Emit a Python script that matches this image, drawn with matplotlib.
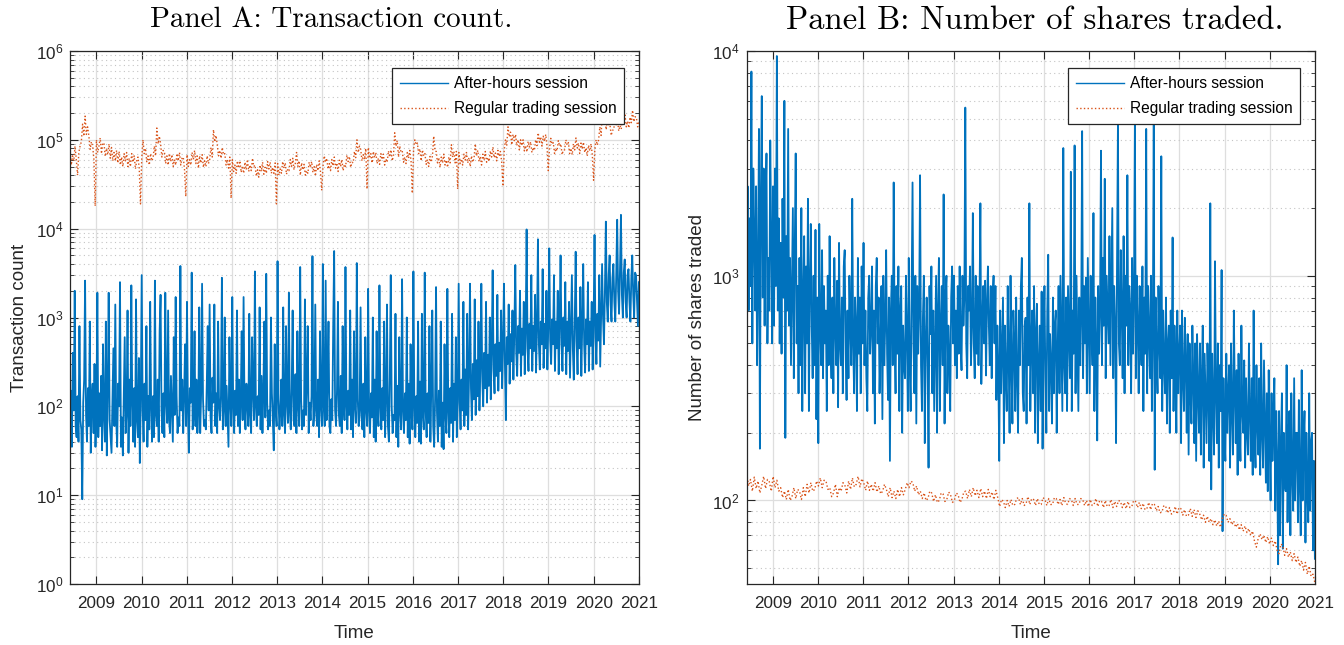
import matplotlib
matplotlib.use('Agg')
import matplotlib.pyplot as plt
import matplotlib.dates as mdates
from matplotlib.ticker import NullFormatter, NullLocator
import pandas as pd

plt.rcParams['font.family'] = ['Liberation Sans', 'DejaVu Sans']
plt.rcParams['mathtext.fontset'] = 'custom'
plt.rcParams['mathtext.rm'] = 'Liberation Sans'
plt.rcParams['mathtext.it'] = 'Liberation Sans'
plt.rcParams['mathtext.bf'] = 'Liberation Sans:bold'

# After-hours transaction count, four readings per month (Jun 2008 - Dec 2020)
after_hours_count = [
    70, 150, 35, 400, 90, 2000, 60, 45, 130, 40, 800, 70, 55, 9, 110, 200, 2600, 80, 40, 160, 60, 900, 30, 120, 180, 50, 300, 35,
    90, 1900, 45, 140, 60, 220, 32, 500, 80, 40, 900, 28, 150, 1900, 70, 45, 30, 110, 450, 60, 1400, 70, 35, 180,
    100, 2500, 35, 75, 28, 130, 600, 50, 85, 1200, 30, 200, 60, 2300, 110, 40, 160, 35, 1600, 70, 45, 350, 23, 120,
    3000, 90, 40, 180, 70, 800, 35, 130, 55, 1500, 100, 40, 130, 45, 2600, 80, 60, 200, 40, 700, 1800, 90, 50, 140,
    45, 1900, 110, 65, 1200, 70, 50, 220, 95, 40, 600, 80, 1700, 130, 50, 75, 60, 3800, 90, 200, 50, 140, 500, 60,
    1500, 90, 30, 160, 110, 3200, 55, 80, 700, 60, 200, 50, 90, 1300, 50, 140, 2400, 120, 60, 70, 55, 180, 800, 90,
    1400, 75, 50, 210, 110, 1400, 60, 140, 50, 900, 100, 70, 130, 2800, 55, 90, 1000, 60, 170, 80, 35, 600, 110, 60,
    1700, 100, 50, 150, 80, 1200, 60, 200, 50, 120, 700, 70, 1700, 90, 55, 180, 110, 60, 1100, 80, 50, 600, 150, 70,
    3300, 100, 60, 130, 80, 1300, 55, 220, 50, 160, 900, 75, 3100, 110, 55, 90, 60, 1000, 140, 70, 32, 500, 100, 60,
    4300, 120, 55, 90, 200, 60, 1300, 80, 50, 800, 110, 65, 1900, 90, 55, 160, 1200, 70, 60, 230, 50, 700, 100, 60,
    3700, 120, 55, 90, 60, 1600, 80, 180, 800, 50, 110, 70, 130, 4900, 60, 90, 1400, 80, 60, 200, 45, 700, 100, 60,
    4000, 100, 60, 2600, 70, 180, 900, 60, 50, 120, 70, 800, 5600, 90, 60, 150, 1500, 80, 60, 220, 50, 800, 110, 70,
    3700, 100, 55, 150, 80, 1200, 55, 200, 45, 700, 100, 65, 4100, 120, 60, 90, 1300, 75, 55, 180, 45, 600, 90, 60,
    2100, 90, 50, 140, 75, 1000, 45, 200, 40, 700, 90, 60, 2300, 100, 55, 160, 70, 900, 45, 120, 1400, 60, 40, 210,
    3000, 100, 50, 80, 70, 1100, 45, 170, 35, 600, 90, 55, 2700, 90, 50, 140, 70, 1000, 45, 180, 38, 500, 85, 55,
    3300, 100, 45, 130, 65, 900, 40, 190, 38, 1100, 80, 55, 3200, 90, 45, 140, 65, 800, 40, 170, 1200, 60, 35, 120,
    2200, 85, 40, 150, 60, 900, 35, 110, 33, 500, 80, 50, 2100, 90, 45, 160, 65, 1100, 40, 180, 70, 600, 45, 120,
    2400, 110, 55, 200, 90, 1500, 60, 260, 80, 1100, 55, 220, 2400, 160, 70, 300, 120, 1600, 80, 330, 130, 900, 90, 280,
    2400, 200, 100, 400, 160, 1500, 110, 380, 170, 1000, 120, 420, 3400, 260, 140, 500, 220, 1800, 150, 520, 250, 1200, 160, 480,
    2400, 300, 70, 600, 300, 1400, 180, 650, 320, 1200, 200, 700, 3900, 400, 220, 800, 400, 2000, 220, 750, 380, 1500, 230, 700,
    9800, 450, 250, 850, 450, 3000, 250, 800, 420, 1800, 240, 750, 7600, 500, 260, 900, 500, 3500, 270, 850, 450, 2000, 260, 800,
    6000, 550, 300, 950, 500, 3000, 250, 900, 450, 2000, 230, 850, 5000, 500, 250, 1000, 480, 2500, 230, 900, 420, 1500, 210, 800,
    3000, 450, 200, 850, 5500, 550, 230, 1000, 450, 2200, 220, 850, 4000, 500, 240, 950, 500, 2500, 250, 900, 480, 1500, 260, 850,
    8500, 600, 300, 1100, 550, 3000, 280, 1000, 4000, 1000, 500, 2000, 12000, 1500, 900, 3000, 5000, 1400, 900, 2800, 4000, 1500, 900, 3000,
    12600, 2000, 1100, 3500, 14300, 1800, 1000, 3200, 4500, 1500, 1000, 3000, 3500, 1500, 900, 2800, 5000, 1800, 1000, 3200, 3000, 1500, 800, 2500,
]

# Regular-session transaction count, three readings per month
regular_count = [
    80000, 52000, 66000, 58000, 85000, 60000, 40000, 72000, 85000, 95000, 150000, 110000, 185000, 115000, 140000, 110000, 78000, 95000, 85000, 60000, 18000,
    100000, 72000, 85000, 105000, 70000, 92000, 92000, 65000, 80000, 68000, 90000, 62000, 82000, 58000, 72000, 58000, 76000, 55000,
    74000, 52000, 64000, 50000, 70000, 58000, 72000, 50000, 62000, 50000, 70000, 56000, 66000, 47000, 58000, 64000, 48000, 19000,
    62000, 100000, 70000, 80000, 56000, 66000, 52000, 70000, 58000, 62000, 85000, 66000, 136000, 90000, 110000, 90000, 64000, 76000,
    74000, 54000, 66000, 52000, 70000, 57000, 68000, 50000, 60000, 52000, 70000, 58000, 72000, 52000, 62000, 64000, 46000, 23000,
    68000, 50000, 60000, 52000, 72000, 60000, 76000, 54000, 66000, 48000, 66000, 55000, 68000, 49000, 58000, 50000, 66000, 54000,
    60000, 82000, 64000, 130000, 95000, 112000, 88000, 66000, 76000, 62000, 82000, 68000, 70000, 52000, 60000, 48000, 64000, 22000,
    60000, 44000, 52000, 42000, 58000, 48000, 58000, 43000, 51000, 42000, 56000, 46000, 60000, 44000, 52000, 45000, 62000, 50000,
    52000, 39000, 46000, 38000, 52000, 44000, 56000, 41000, 49000, 42000, 57000, 47000, 56000, 42000, 49000, 42000, 55000, 19000,
    54000, 40000, 47000, 42000, 57000, 48000, 55000, 41000, 47000, 45000, 60000, 50000, 62000, 46000, 54000, 72000, 50000, 58000,
    40000, 55000, 46000, 53000, 40000, 45000, 42000, 56000, 49000, 57000, 43000, 50000, 39000, 53000, 45000, 58000, 44000, 27000,
    50000, 66000, 56000, 62000, 47000, 54000, 45000, 60000, 51000, 64000, 48000, 55000, 44000, 59000, 50000, 60000, 45000, 53000,
    50000, 67000, 57000, 65000, 49000, 56000, 55000, 74000, 63000, 100000, 72000, 85000, 78000, 58000, 68000, 60000, 80000, 28000,
    82000, 62000, 70000, 55000, 74000, 63000, 72000, 54000, 62000, 53000, 70000, 60000, 69000, 52000, 61000, 56000, 75000, 64000,
    77000, 58000, 66000, 120000, 85000, 98000, 64000, 85000, 73000, 75000, 56000, 64000, 54000, 72000, 62000, 76000, 57000, 25000,
    78000, 100000, 88000, 92000, 70000, 79000, 58000, 77000, 66000, 70000, 53000, 60000, 50000, 65000, 56000, 66000, 110000, 75000,
    74000, 55000, 63000, 49000, 64000, 55000, 69000, 52000, 59000, 49000, 64000, 55000, 88000, 64000, 74000, 55000, 74000, 28000,
    72000, 54000, 61000, 52000, 69000, 59000, 72000, 55000, 63000, 50000, 66000, 56000, 62000, 90000, 66000, 76000, 57000, 65000,
    52000, 69000, 59000, 74000, 56000, 63000, 57000, 75000, 64000, 83000, 63000, 71000, 58000, 76000, 65000, 74000, 56000, 30000,
    76000, 100000, 86000, 140000, 108000, 122000, 88000, 115000, 98000, 115000, 86000, 100000, 77000, 100000, 86000, 100000, 75000, 86000,
    73000, 96000, 83000, 95000, 72000, 82000, 76000, 100000, 86000, 120000, 94000, 108000, 85000, 110000, 96000, 115000, 86000, 45000,
    80000, 104000, 89000, 93000, 70000, 80000, 75000, 98000, 85000, 90000, 68000, 77000, 77000, 100000, 87000, 93000, 70000, 80000,
    68000, 90000, 77000, 105000, 81000, 92000, 70000, 92000, 79000, 94000, 72000, 81000, 66000, 87000, 75000, 90000, 68000, 35000,
    78000, 100000, 87000, 100000, 140000, 112000, 220000, 170000, 195000, 130000, 170000, 148000, 150000, 112000, 128000, 130000, 172000, 148000,
    168000, 126000, 145000, 132000, 175000, 150000, 190000, 140000, 162000, 136000, 180000, 156000, 215000, 160000, 182000, 180000, 140000, 158000,
]

# After-hours shares per trade, four readings per month
after_hours_shares = [
    1200, 2500, 700, 1800, 900, 8100, 500, 3000, 1600, 700, 2500, 400, 1000, 4500, 170, 2200, 6300, 800, 3000, 600, 2000, 3500, 500, 1200, 700, 4000, 1500, 500,
    2500, 600, 3000, 900, 9500, 700, 1800, 500, 1400, 450, 2200, 800, 6000, 190, 1500, 700, 4500, 600, 1200, 400, 900, 2000, 350, 1300,
    3500, 500, 900, 300, 1200, 400, 2000, 250, 800, 1500, 300, 1100, 500, 2200, 250, 900, 1700, 600, 350, 1000, 400, 1600, 230, 800,
    180, 1700, 600, 400, 1300, 350, 900, 500, 700, 250, 1000, 400, 1500, 500, 350, 800, 300, 1200, 600, 400, 950, 260, 1400, 500,
    400, 800, 300, 1100, 1300, 450, 280, 700, 350, 1000, 600, 400, 2200, 500, 300, 800, 600, 250, 1200, 450, 800, 300, 1100, 500,
    1400, 400, 700, 350, 250, 800, 1000, 450, 600, 1100, 300, 700, 220, 900, 1200, 500, 800, 300, 500, 900, 230, 1000, 400, 600,
    1300, 450, 280, 800, 150, 700, 1000, 400, 2600, 500, 300, 900, 450, 1100, 250, 700, 900, 200, 600, 400, 350, 1000, 550, 250,
    1200, 400, 250, 800, 2600, 500, 300, 1000, 220, 900, 450, 700, 2800, 400, 250, 650, 1000, 180, 500, 800, 400, 140, 900, 550,
    1100, 300, 700, 250, 500, 1000, 200, 700, 1200, 250, 600, 900, 400, 2300, 220, 800, 1000, 300, 600, 450, 250, 800, 1100, 500,
    1000, 400, 700, 350, 900, 450, 1100, 500, 380, 1000, 600, 800, 5600, 500, 350, 900, 700, 1100, 400, 600, 1900, 500, 350, 1000,
    450, 900, 400, 700, 2100, 330, 600, 900, 500, 950, 360, 750, 1100, 600, 400, 900, 350, 800, 1000, 500, 900, 280, 600, 400,
    150, 700, 300, 500, 800, 180, 600, 350, 250, 900, 450, 200, 1000, 400, 220, 700, 500, 250, 800, 350, 200, 700, 400, 900,
    1200, 300, 250, 600, 650, 220, 800, 400, 2100, 250, 500, 700, 300, 900, 200, 550, 750, 180, 400, 600, 250, 850, 170, 500,
    900, 350, 200, 700, 1240, 250, 550, 400, 220, 800, 300, 600, 700, 200, 450, 900, 300, 1000, 500, 250, 3700, 400, 300, 800,
    250, 900, 550, 350, 2900, 250, 700, 450, 3800, 300, 1000, 500, 250, 800, 400, 650, 4400, 350, 900, 500, 980, 300, 1200, 600,
    300, 1000, 600, 400, 1900, 250, 800, 500, 185, 900, 450, 700, 3600, 400, 1200, 600, 2700, 350, 1000, 700, 500, 1500, 400, 900,
    2000, 350, 900, 600, 180, 1100, 4800, 500, 400, 1300, 700, 350, 1500, 300, 1000, 600, 2800, 400, 900, 700, 300, 1200, 450, 800,
    4800, 350, 1000, 600, 300, 900, 500, 400, 1100, 250, 800, 450, 4500, 300, 900, 550, 350, 1000, 250, 600, 4700, 137, 800, 450,
    300, 900, 500, 350, 3400, 250, 700, 400, 300, 800, 220, 500, 600, 200, 700, 350, 1480, 250, 600, 400, 200, 700, 300, 450,
    600, 180, 700, 350, 250, 650, 400, 200, 550, 160, 500, 300, 220, 600, 350, 180, 500, 150, 550, 300, 200, 500, 160, 350,
    600, 140, 450, 280, 180, 500, 300, 150, 2100, 112, 450, 250, 160, 1160, 300, 180, 500, 140, 400, 250, 1060, 73, 350, 200,
    150, 450, 200, 300, 400, 140, 500, 250, 160, 700, 300, 180, 380, 130, 450, 220, 150, 600, 250, 200, 420, 140, 350, 200,
    160, 500, 250, 150, 350, 130, 700, 200, 140, 400, 220, 160, 350, 130, 500, 200, 140, 420, 220, 120, 300, 110, 380, 180,
    100, 300, 150, 220, 350, 90, 250, 150, 52, 250, 70, 180, 300, 61, 200, 120, 110, 400, 80, 200, 250, 70, 300, 130,
    90, 350, 100, 200, 200, 80, 280, 120, 70, 380, 100, 180, 250, 65, 200, 110, 80, 300, 90, 180, 200, 60, 150, 55,
]

# Regular-session shares per trade, two readings per month
regular_shares = [
    132, 116, 124, 110, 127, 113, 122, 108, 117, 128, 113, 124, 121, 110,
    128, 114, 123, 110, 114, 103, 110, 101, 112, 100, 104, 114, 102, 112, 110, 101, 114, 104, 118, 108, 120, 110, 112, 122,
    116, 126, 114, 123, 122, 112, 114, 104, 108, 118, 104, 114, 110, 120, 117, 108, 122, 112, 126, 115, 118, 128, 115, 125,
    120, 111, 122, 111, 118, 110, 120, 109, 116, 107, 110, 118, 112, 104, 114, 103, 110, 102, 112, 104, 114, 106, 112, 120,
    114, 122, 120, 110, 116, 106, 110, 102, 108, 100, 102, 110, 108, 99, 106, 98, 100, 108, 107, 99, 101, 109, 106, 98,
    100, 108, 106, 98, 101, 109, 110, 102, 112, 104, 114, 105, 111, 103, 113, 104, 110, 102, 112, 104, 109, 101, 111, 103,
    94, 101, 99, 93, 100, 94, 101, 95, 96, 102, 103, 96, 102, 95, 97, 104, 96, 102, 101, 95, 102, 96, 96, 103,
    101, 95, 102, 96, 96, 103, 102, 96, 101, 95, 103, 97, 96, 102, 101, 95, 102, 96, 96, 102, 101, 95, 100, 94,
    101, 95, 96, 102, 94, 100, 99, 93, 100, 94, 95, 101, 93, 99, 94, 100, 99, 93, 98, 92, 99, 93, 94, 100,
    99, 93, 98, 92, 97, 91, 92, 98, 91, 97, 96, 90, 94, 88, 89, 95, 94, 88, 93, 87, 88, 94, 87, 93,
    92, 86, 91, 85, 86, 92, 85, 91, 84, 90, 87, 82, 86, 80, 85, 80, 83, 78, 82, 77, 81, 76, 83, 87,
    86, 80, 83, 78, 81, 76, 79, 74, 78, 73, 77, 72, 75, 70, 73, 66, 62, 68, 71, 67, 70, 65, 69, 64,
    68, 63, 66, 60, 58, 64, 63, 57, 61, 56, 59, 54, 58, 53, 56, 51, 54, 49, 53, 47, 51, 46, 47, 43,
]

start, end = '2008-06-02', '2020-12-31'
years = [pd.Timestamp(f'{y}-01-01') for y in range(2009, 2022)]
blue = '#0072BD'
orange = '#D95319'
axis_gray = '#262626'


def dates_for(values):
    return pd.date_range(start, end, periods=len(values))


def log_ticks(lo_exp, hi_exp, ymin, ymax):
    major = [10.0 ** e for e in range(lo_exp, hi_exp + 1)]
    minor = [k * 10.0 ** e for e in range(lo_exp - 1, hi_exp) for k in range(2, 10)]
    minor = [m for m in minor if ymin <= m <= ymax]
    return major, minor


def style_axes(ax, ymin, ymax, lo_exp, hi_exp):
    ax.set_yscale('log')
    major, minor = log_ticks(lo_exp, hi_exp, ymin, ymax)
    ax.set_yticks(major)
    ax.set_yticks(minor, minor=True)
    ax.yaxis.set_minor_formatter(NullFormatter())
    ax.set_ylim(ymin, ymax)
    ax.set_xlim(pd.Timestamp('2008-06-02'), pd.Timestamp('2021-01-01'))
    ax.set_xticks(years)
    ax.xaxis.set_major_formatter(mdates.DateFormatter('%Y'))
    ax.xaxis.set_minor_locator(NullLocator())
    ax.grid(True, which='major', color='#dedede', linewidth=0.9)
    ax.grid(True, which='minor', axis='y', color='#c4c4c4', linestyle=(0, (1, 3)), linewidth=0.8)
    ax.set_axisbelow(True)
    ax.tick_params(which='both', direction='in', top=True, right=True, colors=axis_gray,
                   labelsize=12.3, labelcolor=axis_gray)
    ax.tick_params(axis='x', which='major', length=6, pad=9)
    ax.tick_params(axis='y', which='major', length=6, pad=5)
    ax.tick_params(axis='y', which='minor', length=3)
    for side in ax.spines.values():
        side.set_color(axis_gray)
        side.set_linewidth(0.9)
    ax.set_xlabel('Time', fontsize=13.5, color=axis_gray)
    ax.xaxis.set_label_coords(0.5, -0.076)


fig = plt.figure(figsize=(13.44, 6.45), dpi=100)
ax_a = fig.add_axes([70 / 1344, 1 - 584 / 645, 569 / 1344, 533 / 645])
ax_b = fig.add_axes([746.7 / 1344, 1 - 584 / 645, 568.3 / 1344, 533 / 645])

# Panel A: transaction count
ax_a.plot(dates_for(after_hours_count), after_hours_count, color=blue, linewidth=1.3,
          label='After-hours session')
ax_a.plot(dates_for(regular_count), regular_count, color=orange, linewidth=1.0,
          linestyle=':', label='Regular trading session')
style_axes(ax_a, 1, 1e6, 0, 6)
ax_a.set_ylabel('Transaction count', fontsize=13.5, color=axis_gray)
ax_a.yaxis.set_label_coords(-0.074, 0.5)

# Panel B: shares traded
ax_b.plot(dates_for(after_hours_shares), after_hours_shares, color=blue, linewidth=1.3,
          label='After-hours session')
ax_b.plot(dates_for(regular_shares), regular_shares, color=orange, linewidth=1.0,
          linestyle=':', label='Regular trading session')
style_axes(ax_b, 42.5, 1e4, 2, 4)
ax_b.set_ylabel('Number of shares traded', fontsize=13.5, color=axis_gray)
ax_b.yaxis.set_label_coords(-0.0716, 0.5)

for ax in (ax_a, ax_b):
    leg = ax.legend(loc='upper right', bbox_to_anchor=(0.974, 0.9675), borderaxespad=0,
                    fontsize=11.2, fancybox=False, framealpha=1, edgecolor=axis_gray,
                    handlelength=3.1, handletextpad=0.35, labelspacing=0.64,
                    borderpad=0.51)
    leg.get_frame().set_linewidth(0.9)
    for handle in leg.get_lines():
        handle.set_linewidth(1.0)

fig.text(331 / 1344, 1 - 20 / 645, 'Panel A: Transaction count.', fontfamily='cmr10',
         fontsize=21, ha='center', va='center')
fig.text(1035 / 1344, 1 - 20 / 645, 'Panel B: Number of shares traded.', fontfamily='cmr10',
         fontsize=23.5, ha='center', va='center')

fig.savefig('out.png', dpi=100)
